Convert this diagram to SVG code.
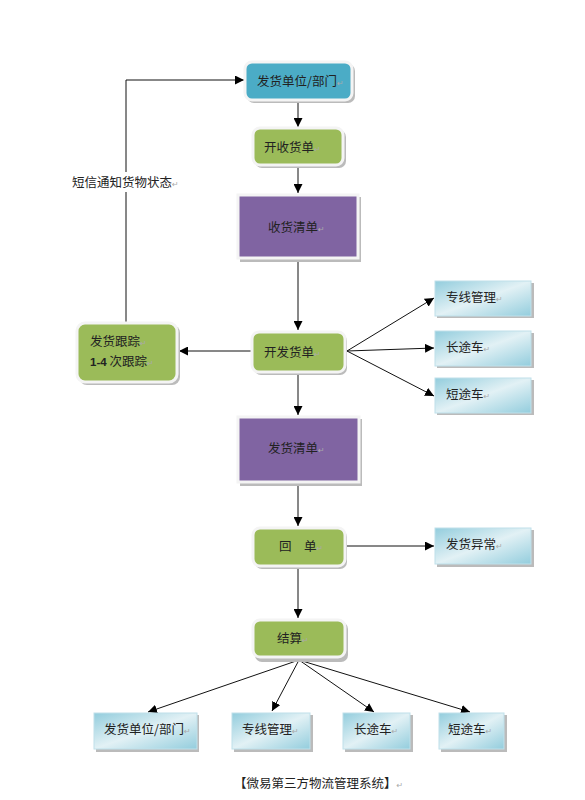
<svg xmlns="http://www.w3.org/2000/svg" width="585" height="800" viewBox="0 0 585 800">
<style>
text{font-family:"Noto Sans CJK SC","Liberation Serif",serif;font-size:12.5px;fill:#222}
.pm{fill:#aaa;font-size:8px;font-family:"DejaVu Sans",sans-serif}
.ln{stroke:#111;stroke-width:1;fill:none}
.shadow{fill:#bbb}
.frame{stroke:#f4f4f4;stroke-width:3}
</style>
<defs>
<marker id="ar" viewBox="0 0 10 10" refX="10" refY="5" markerWidth="9" markerHeight="9" markerUnits="userSpaceOnUse" orient="auto">
<path d="M0,0 L10,5 L0,10 z" fill="#000"/>
</marker>
<linearGradient id="lb" x1="0" y1="0" x2="1" y2="1">
<stop offset="0" stop-color="#93CDDD"/>
<stop offset="0.5" stop-color="#E2F1F5"/>
<stop offset="1" stop-color="#93CDDD"/>
</linearGradient>
</defs>

<g id="connectors">
<line class="ln" x1="298" y1="101" x2="298" y2="127" marker-end="url(#ar)"/>
<line class="ln" x1="298" y1="167" x2="298" y2="193" marker-end="url(#ar)"/>
<line class="ln" x1="298" y1="261" x2="298" y2="330" marker-end="url(#ar)"/>
<line class="ln" x1="298" y1="374" x2="298" y2="415" marker-end="url(#ar)"/>
<line class="ln" x1="298" y1="485" x2="298" y2="526" marker-end="url(#ar)"/>
<line class="ln" x1="298" y1="568" x2="298" y2="618" marker-end="url(#ar)"/>
<line class="ln" x1="251" y1="351" x2="179" y2="351" marker-end="url(#ar)"/>
<polyline class="ln" points="126,322 126,80 244,80" marker-end="url(#ar)"/>
<line class="ln" x1="347" y1="351" x2="434" y2="298" marker-end="url(#ar)"/>
<line class="ln" x1="347" y1="351" x2="434" y2="348" marker-end="url(#ar)"/>
<line class="ln" x1="347" y1="351" x2="434" y2="396" marker-end="url(#ar)"/>
<line class="ln" x1="347" y1="546" x2="434" y2="546" marker-end="url(#ar)"/>
<line class="ln" x1="299" y1="660" x2="148" y2="712" marker-end="url(#ar)"/>
<line class="ln" x1="299" y1="660" x2="272" y2="711" marker-end="url(#ar)"/>
<line class="ln" x1="299" y1="660" x2="374" y2="712" marker-end="url(#ar)"/>
<line class="ln" x1="299" y1="660" x2="470" y2="712" marker-end="url(#ar)"/>
<rect x="70" y="172" width="112" height="20" fill="#fff"/>
<text x="72" y="187">短信通知货物状态<tspan class="pm">↵</tspan></text>
</g>

<g id="n-sender">
<rect class="shadow" x="247" y="64" width="108" height="39" rx="7"/>
<rect class="frame" x="245" y="62" width="107" height="38" rx="7" fill="#4BACC6"/>
<text x="257" y="86">发货单位/部门<tspan class="pm">↵</tspan></text>
</g>

<g id="n-open-receive">
<rect class="shadow" x="255" y="130" width="91" height="38" rx="7"/>
<rect class="frame" x="253" y="128" width="90" height="37" rx="7" fill="#9BBB59"/>
<text x="264" y="152">开收货单<tspan class="pm">↵</tspan></text>
</g>

<g id="n-receive-list">
<rect class="shadow" x="240" y="197" width="121" height="65"/>
<rect class="frame" x="238" y="195" width="120" height="63" fill="#8064A2"/>
<text x="268" y="232">收货清单<tspan class="pm">↵</tspan></text>
</g>

<g id="n-open-ship">
<rect class="shadow" x="254" y="334" width="93" height="41" rx="7"/>
<rect class="frame" x="252" y="332" width="93" height="40" rx="7" fill="#9BBB59"/>
<text x="264" y="357">开发货单<tspan class="pm">↵</tspan></text>
</g>

<g id="n-track">
<rect class="shadow" x="79" y="325" width="101" height="60" rx="8"/>
<rect class="frame" x="77" y="323" width="100" height="59" rx="8" fill="#9BBB59"/>
<text x="90" y="346">发货跟踪<tspan class="pm">↵</tspan></text>
<text x="90" y="366"><tspan font-family="Liberation Sans,sans-serif" font-weight="bold" font-size="11.5">1-4</tspan> 次跟踪<tspan class="pm">↵</tspan></text>
</g>

<g id="n-line1">
<rect class="shadow" x="437" y="283" width="97" height="35"/>
<rect x="435" y="281" width="96" height="35" fill="url(#lb)" stroke="#bfe0ea" stroke-width="1"/>
<text x="446" y="302">专线管理<tspan class="pm">↵</tspan></text>
</g>
<g id="n-long1">
<rect class="shadow" x="437" y="333" width="97" height="35"/>
<rect x="435" y="331" width="96" height="35" fill="url(#lb)" stroke="#bfe0ea" stroke-width="1"/>
<text x="446" y="352">长途车<tspan class="pm">↵</tspan></text>
</g>
<g id="n-short1">
<rect class="shadow" x="437" y="380" width="97" height="35"/>
<rect x="435" y="378" width="96" height="35" fill="url(#lb)" stroke="#bfe0ea" stroke-width="1"/>
<text x="446" y="399">短途车<tspan class="pm">↵</tspan></text>
</g>

<g id="n-ship-list">
<rect class="shadow" x="240" y="419" width="122" height="67"/>
<rect class="frame" x="238" y="417" width="121" height="65" fill="#8064A2"/>
<text x="268" y="453">发货清单<tspan class="pm">↵</tspan></text>
</g>

<g id="n-receipt">
<rect class="shadow" x="255" y="530" width="92" height="39" rx="7"/>
<rect class="frame" x="253" y="528" width="92" height="38" rx="7" fill="#9BBB59"/>
<text x="279" y="551">回　单<tspan class="pm">↵</tspan></text>
</g>

<g id="n-exception">
<rect class="shadow" x="437" y="530" width="97" height="37"/>
<rect x="435" y="528" width="96" height="36" fill="url(#lb)" stroke="#bfe0ea" stroke-width="1"/>
<text x="446" y="549">发货异常<tspan class="pm">↵</tspan></text>
</g>

<g id="n-settle">
<rect class="shadow" x="255" y="622" width="93" height="40" rx="7"/>
<rect class="frame" x="253" y="620" width="92" height="37" rx="7" fill="#9BBB59"/>
<text x="277" y="643">结算<tspan class="pm">↵</tspan></text>
</g>

<g id="n-b-sender">
<rect class="shadow" x="96" y="715" width="103" height="37"/>
<rect x="94" y="713" width="103" height="36" fill="url(#lb)" stroke="#bfe0ea" stroke-width="1"/>
<text x="104" y="734">发货单位/部门<tspan class="pm">↵</tspan></text>
</g>
<g id="n-b-line">
<rect class="shadow" x="234" y="715" width="79" height="37"/>
<rect x="232" y="713" width="78" height="36" fill="url(#lb)" stroke="#bfe0ea" stroke-width="1"/>
<text x="242" y="734">专线管理<tspan class="pm">↵</tspan></text>
</g>
<g id="n-b-long">
<rect class="shadow" x="345" y="715" width="68" height="37"/>
<rect x="343" y="713" width="67" height="36" fill="url(#lb)" stroke="#bfe0ea" stroke-width="1"/>
<text x="354" y="734">长途车<tspan class="pm">↵</tspan></text>
</g>
<g id="n-b-short">
<rect class="shadow" x="441" y="715" width="66" height="37"/>
<rect x="439" y="713" width="65" height="36" fill="url(#lb)" stroke="#bfe0ea" stroke-width="1"/>
<text x="448" y="734">短途车<tspan class="pm">↵</tspan></text>
</g>

<text x="234" y="788">【微易第三方物流管理系统】<tspan class="pm">↵</tspan></text>
</svg>
